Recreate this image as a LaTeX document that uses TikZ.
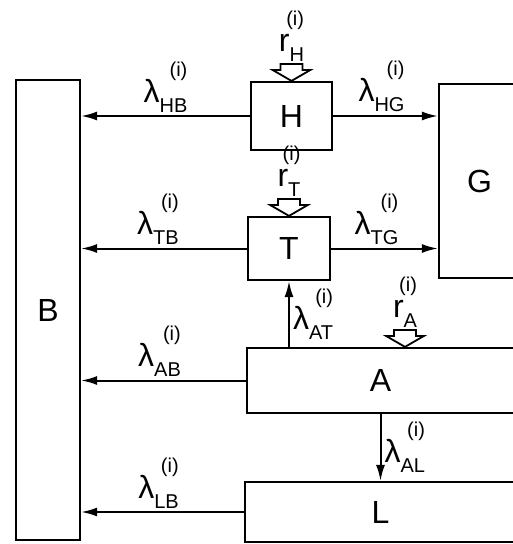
\documentclass[tikz,border=0pt]{standalone}
\usepackage{fontspec}
\setmainfont{Liberation Sans}
\usepackage{tikz}
\usetikzlibrary{arrows.meta,positioning}

% rate label: symbol, lowered subscript, (i) on top
\newcommand{\rate}[2]{#1\raisebox{-10pt}{\fontsize{20}{20}\selectfont #2}\llap{\raisebox{26pt}{\fontsize{20}{20}\selectfont (i)}}}
% hollow inflow arrow, tip at #1
\newcommand{\inflow}[1]{\draw[inarr] (#1) -- ++(-19,-11) -- ++(8,0) -- ++(0,-6) -- ++(22,0) -- ++(0,6) -- ++(8,0) -- cycle;}

\begin{document}
\begin{tikzpicture}[
  x=1pt, y=-1pt,
  box/.style={draw=black, line width=2.2pt, inner sep=0pt, font=\fontsize{32}{32}\selectfont},
  lab/.style={inner sep=1pt, font=\fontsize{32}{32}\selectfont},
  arr/.style={-{Latex[length=16pt,width=9pt]}, line width=2pt},
  inarr/.style={draw=black, line width=1.8pt, fill=white}
]
\useasboundingbox (0,0) rectangle (512,544);
\node[box, minimum width=64pt, minimum height=460pt] (B) at (48,310) {B};
\node[box, minimum width=81pt, minimum height=68pt] (H) at (291.5,116) {H};
\node[box, minimum width=82pt, minimum height=63pt] (T) at (289,248.5) {T};
\node[box, minimum width=81pt, minimum height=194pt] (G) at (479.5,181) {G};
\node[box, minimum width=267pt, minimum height=65pt] (A) at (380.5,380.5) {A};
\node[box, minimum width=271pt, minimum height=60pt] (L) at (380.5,512) {L};
\coordinate (rA) at ([xshift=24.5pt]A.north);
% inputs
\inflow{H.north}
\inflow{T.north}
\inflow{rA}
\node[lab, anchor=south] (rH) at ([yshift=18pt]H.north) {\rate{r}{H}};
\node[lab, anchor=south] (rT) at ([yshift=18pt]T.north) {\rate{r}{T}};
\node[lab, anchor=south] (rAl) at ([yshift=18pt]rA) {\rate{r}{A}};
% flows
\draw[arr] (H.west) -- (H.west -| B.east) node[lab, midway, above=2pt] {\rate{λ}{HB}};
\draw[arr] (H.east) -- (H.east -| G.west) node[lab, midway, above=2pt, xshift=-4pt] {\rate{λ}{HG}};
\draw[arr] (T.west) -- (T.west -| B.east) node[lab, midway, above=2pt, xshift=-6pt] {\rate{λ}{TB}};
\draw[arr] (T.east) -- (T.east -| G.west) node[lab, midway, above=2pt, xshift=-8pt] {\rate{λ}{TG}};
\draw[arr] (A.west) -- (A.west -| B.east) node[lab, midway, above=2pt, xshift=-4pt] {\rate{λ}{AB}};
\draw[arr] (L.west) -- (L.west -| B.east) node[lab, midway, above=2pt, xshift=-4pt] {\rate{λ}{LB}};
\draw[arr] (T.south |- A.north) -- (T.south) node[lab, midway, right=2pt] {\rate{λ}{AT}};
\draw[arr] (A.south) -- (A.south |- L.north) node[lab, midway, right=2pt] {\rate{λ}{AL}};
\end{tikzpicture}
\end{document}
